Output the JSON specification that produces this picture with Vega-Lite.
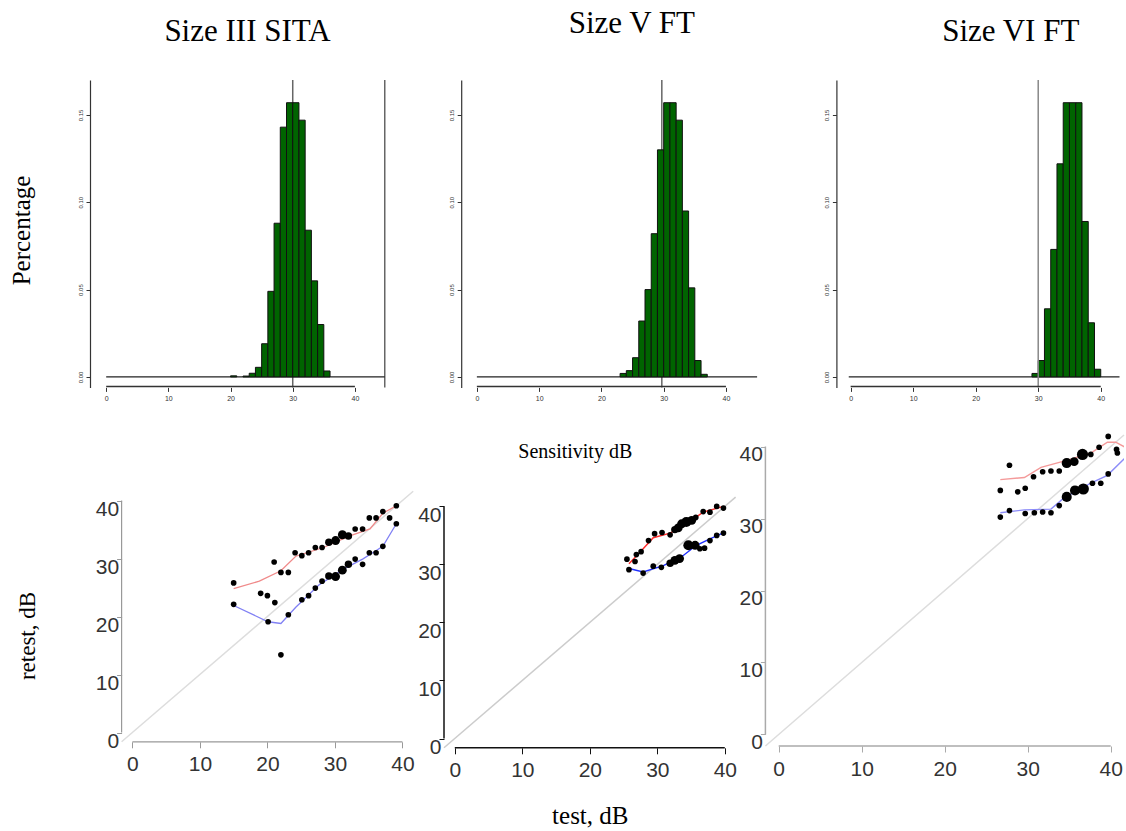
{
 "$schema": "https://vega.github.io/schema/vega-lite/v6.json",
 "background": "white",
 "padding": {"left": 9, "top": 8, "right": 0, "bottom": 0},
 "data": {"values": [{}]},
 "datasets": {
  "h1": [{"lo":20,"hi":21,"p":0.0006},{"lo":22,"hi":23,"p":0.0005},{"lo":23,"hi":24,"p":0.0021},{"lo":24,"hi":25,"p":0.0055},{"lo":25,"hi":26,"p":0.019},{"lo":26,"hi":27,"p":0.049},{"lo":27,"hi":28,"p":0.088},{"lo":28,"hi":29,"p":0.143},{"lo":29,"hi":30,"p":0.157},{"lo":30,"hi":31,"p":0.157},{"lo":31,"hi":32,"p":0.147},{"lo":32,"hi":33,"p":0.084},{"lo":33,"hi":34,"p":0.055},{"lo":34,"hi":35,"p":0.030},{"lo":35,"hi":36,"p":0.0034}],
  "h2": [{"lo":23,"hi":24,"p":0.002},{"lo":24,"hi":25,"p":0.0036},{"lo":25,"hi":26,"p":0.011},{"lo":26,"hi":27,"p":0.032},{"lo":27,"hi":28,"p":0.050},{"lo":28,"hi":29,"p":0.082},{"lo":29,"hi":30,"p":0.130},{"lo":30,"hi":31,"p":0.157},{"lo":31,"hi":32,"p":0.157},{"lo":32,"hi":33,"p":0.147},{"lo":33,"hi":34,"p":0.095},{"lo":34,"hi":35,"p":0.051},{"lo":35,"hi":36,"p":0.0094},{"lo":36,"hi":37,"p":0.0015}],
  "h3": [{"lo":29,"hi":30,"p":0.002},{"lo":30,"hi":31,"p":0.0094},{"lo":31,"hi":32,"p":0.039},{"lo":32,"hi":33,"p":0.073},{"lo":33,"hi":34,"p":0.122},{"lo":34,"hi":35,"p":0.157},{"lo":35,"hi":36,"p":0.157},{"lo":36,"hi":37,"p":0.157},{"lo":37,"hi":38,"p":0.089},{"lo":38,"hi":39,"p":0.031},{"lo":39,"hi":40,"p":0.0044}],
  "pts": [
   {"panel":1,"x":15.0,"y":25.8,"w":1},{"panel":1,"x":21.0,"y":29.4,"w":1},{"panel":1,"x":22.0,"y":27.6,"w":1},{"panel":1,"x":23.1,"y":27.6,"w":1},{"panel":1,"x":19.0,"y":24.0,"w":1},{"panel":1,"x":20.0,"y":23.6,"w":1},{"panel":1,"x":21.1,"y":22.4,"w":1},{"panel":1,"x":24.1,"y":31.0,"w":1},{"panel":1,"x":25.1,"y":30.5,"w":1},{"panel":1,"x":26.1,"y":31.0,"w":1},{"panel":1,"x":27.1,"y":31.9,"w":1},{"panel":1,"x":28.1,"y":31.9,"w":1},{"panel":1,"x":29.1,"y":32.8,"w":1.5},{"panel":1,"x":30.1,"y":33.1,"w":2},{"panel":1,"x":31.1,"y":34.1,"w":2},{"panel":1,"x":32.0,"y":33.9,"w":1.5},{"panel":1,"x":33.0,"y":35.1,"w":1},{"panel":1,"x":34.1,"y":35.1,"w":1},{"panel":1,"x":35.1,"y":37.0,"w":1},{"panel":1,"x":36.1,"y":37.0,"w":1},{"panel":1,"x":37.1,"y":38.1,"w":1},{"panel":1,"x":38.1,"y":37.0,"w":1},{"panel":1,"x":39.1,"y":39.1,"w":1},
   {"panel":1,"x":15.0,"y":22.1,"w":1},{"panel":1,"x":20.1,"y":19.1,"w":1},{"panel":1,"x":22.0,"y":13.4,"w":1},{"panel":1,"x":23.1,"y":20.3,"w":1},{"panel":1,"x":25.1,"y":22.9,"w":1},{"panel":1,"x":26.1,"y":23.6,"w":1},{"panel":1,"x":27.1,"y":24.9,"w":1},{"panel":1,"x":28.1,"y":26.1,"w":1},{"panel":1,"x":29.1,"y":27.0,"w":1.5},{"panel":1,"x":30.1,"y":26.9,"w":2},{"panel":1,"x":31.1,"y":28.0,"w":2},{"panel":1,"x":32.0,"y":29.0,"w":1.5},{"panel":1,"x":33.0,"y":29.9,"w":1},{"panel":1,"x":34.1,"y":29.0,"w":1},{"panel":1,"x":35.1,"y":31.0,"w":1},{"panel":1,"x":36.1,"y":31.0,"w":1},{"panel":1,"x":37.1,"y":32.1,"w":1},{"panel":1,"x":39.1,"y":36.0,"w":1},
   {"panel":2,"x":25.5,"y":30.9,"w":1},{"panel":2,"x":26.7,"y":30.5,"w":1},{"panel":2,"x":26.9,"y":31.7,"w":1},{"panel":2,"x":27.6,"y":32.2,"w":1},{"panel":2,"x":28.7,"y":34.1,"w":1},{"panel":2,"x":29.6,"y":35.3,"w":1},{"panel":2,"x":30.7,"y":35.5,"w":1},{"panel":2,"x":31.9,"y":35.1,"w":1},{"panel":2,"x":32.6,"y":36.0,"w":1.5},{"panel":2,"x":33.1,"y":36.3,"w":2},{"panel":2,"x":33.6,"y":37.0,"w":2},{"panel":2,"x":34.3,"y":37.3,"w":2.5},{"panel":2,"x":35.1,"y":37.6,"w":2},{"panel":2,"x":35.7,"y":38.1,"w":1},{"panel":2,"x":36.8,"y":39.1,"w":1},{"panel":2,"x":37.8,"y":39.0,"w":1},{"panel":2,"x":38.8,"y":40.0,"w":1},{"panel":2,"x":39.8,"y":39.7,"w":1},
   {"panel":2,"x":25.8,"y":29.1,"w":1},{"panel":2,"x":27.9,"y":28.5,"w":1},{"panel":2,"x":29.4,"y":29.7,"w":1},{"panel":2,"x":30.6,"y":29.5,"w":1},{"panel":2,"x":31.9,"y":30.2,"w":1.5},{"panel":2,"x":32.6,"y":30.7,"w":2},{"panel":2,"x":33.3,"y":31.0,"w":2},{"panel":2,"x":34.6,"y":33.3,"w":2.5},{"panel":2,"x":35.6,"y":33.3,"w":2},{"panel":2,"x":36.3,"y":32.7,"w":1},{"panel":2,"x":37.0,"y":32.8,"w":1},{"panel":2,"x":37.8,"y":34.1,"w":1},{"panel":2,"x":38.8,"y":35.0,"w":1},{"panel":2,"x":39.8,"y":35.4,"w":1},
   {"panel":3,"x":26.7,"y":33.9,"w":1},{"panel":3,"x":27.8,"y":37.4,"w":1},{"panel":3,"x":28.8,"y":33.7,"w":1},{"panel":3,"x":29.7,"y":34.2,"w":1},{"panel":3,"x":30.7,"y":35.8,"w":1},{"panel":3,"x":31.8,"y":36.5,"w":1},{"panel":3,"x":32.8,"y":36.6,"w":1},{"panel":3,"x":33.8,"y":36.6,"w":1},{"panel":3,"x":34.7,"y":37.7,"w":2.5},{"panel":3,"x":35.6,"y":37.9,"w":2},{"panel":3,"x":36.6,"y":38.9,"w":3},{"panel":3,"x":37.6,"y":38.9,"w":1},{"panel":3,"x":38.6,"y":39.9,"w":1},{"panel":3,"x":39.7,"y":41.4,"w":1},{"panel":3,"x":40.7,"y":39.6,"w":1},{"panel":3,"x":40.8,"y":39.1,"w":1},
   {"panel":3,"x":26.7,"y":30.2,"w":1},{"panel":3,"x":27.8,"y":31.1,"w":1},{"panel":3,"x":29.7,"y":30.7,"w":1},{"panel":3,"x":30.8,"y":30.8,"w":1},{"panel":3,"x":31.8,"y":30.9,"w":1},{"panel":3,"x":32.8,"y":30.8,"w":1},{"panel":3,"x":33.8,"y":31.8,"w":1},{"panel":3,"x":34.7,"y":33.0,"w":2.5},{"panel":3,"x":35.7,"y":33.9,"w":2.5},{"panel":3,"x":36.7,"y":34.1,"w":3},{"panel":3,"x":37.8,"y":34.9,"w":1},{"panel":3,"x":38.8,"y":34.9,"w":1},{"panel":3,"x":39.7,"y":36.2,"w":1}
  ],
  "fit": [
   {"panel":1,"side":"up","x":15,"y":24.8},{"panel":1,"side":"up","x":18.8,"y":26.1},{"panel":1,"side":"up","x":22,"y":27.9},{"panel":1,"side":"up","x":24.2,"y":30.4},{"panel":1,"side":"up","x":28.3,"y":31.9},{"panel":1,"side":"up","x":32.2,"y":33.9},{"panel":1,"side":"up","x":35.2,"y":35.1},{"panel":1,"side":"up","x":37.1,"y":37.8},{"panel":1,"side":"up","x":39.1,"y":39.1},
   {"panel":1,"side":"lo","x":15,"y":21.9},{"panel":1,"side":"lo","x":20.1,"y":19.1},{"panel":1,"side":"lo","x":22,"y":18.8},{"panel":1,"side":"lo","x":24.2,"y":21.6},{"panel":1,"side":"lo","x":27.7,"y":25.5},{"panel":1,"side":"lo","x":31.6,"y":28.4},{"panel":1,"side":"lo","x":34.1,"y":29.9},{"panel":1,"side":"lo","x":35.6,"y":31.0},{"panel":1,"side":"lo","x":37.1,"y":32.1},{"panel":1,"side":"lo","x":39.1,"y":36.0},
   {"panel":2,"side":"up","x":25.8,"y":30.1},{"panel":2,"side":"up","x":27.6,"y":32.3},{"panel":2,"side":"up","x":29.4,"y":34.6},{"panel":2,"side":"up","x":31.9,"y":35.4},{"panel":2,"side":"up","x":34.3,"y":37.0},{"panel":2,"side":"up","x":36.8,"y":39.0},{"panel":2,"side":"up","x":39.8,"y":40.0},
   {"panel":2,"side":"lo","x":25.8,"y":29.3},{"panel":2,"side":"lo","x":27.9,"y":28.7},{"panel":2,"side":"lo","x":30.9,"y":29.8},{"panel":2,"side":"lo","x":33.8,"y":31.5},{"panel":2,"side":"lo","x":35.8,"y":33.3},{"panel":2,"side":"lo","x":37.8,"y":34.4},{"panel":2,"side":"lo","x":40.1,"y":35.6},
   {"panel":3,"side":"up","x":26.7,"y":35.4},{"panel":3,"side":"up","x":29.6,"y":35.7},{"panel":3,"side":"up","x":31.6,"y":37.1},{"panel":3,"side":"up","x":34.8,"y":38.1},{"panel":3,"side":"up","x":37.6,"y":39.1},{"panel":3,"side":"up","x":39.6,"y":40.6},{"panel":3,"side":"up","x":40.6,"y":40.6},{"panel":3,"side":"up","x":41.9,"y":39.8},
   {"panel":3,"side":"lo","x":26.7,"y":30.8},{"panel":3,"side":"lo","x":29.6,"y":31.2},{"panel":3,"side":"lo","x":32.8,"y":31.3},{"panel":3,"side":"lo","x":34.3,"y":32.8},{"panel":3,"side":"lo","x":37.6,"y":34.9},{"panel":3,"side":"lo","x":39.6,"y":36.0},{"panel":3,"side":"lo","x":41.9,"y":38.6}
  ]
 },
 "config": {
  "view": {"stroke": null},
  "axis": {"grid": false, "labelFont": "Liberation Sans", "titleFont": "Liberation Serif", "titleFontWeight": "normal", "titleColor": "#000"},
  "title": {"font": "Liberation Serif", "fontWeight": "normal", "fontSize": 31, "color": "#000", "anchor": "middle", "baseline": "middle", "frame": "group"}
 },
 "columns": 3,
 "align": "each",
 "bounds": "flush",
 "spacing": {"row": 47, "column": 0},
 "concat": [
  {
   "width": 301, "height": 307.4,
   "title": {"text": "Size III SITA", "dx": 7, "offset": 31},
   "layer": [
    {"mark": {"type": "rule", "color": "#666", "strokeWidth": 1.5}, "encoding": {"x": {"datum": 30, "type": "quantitative", "scale": {"domain": [-1.8, 45], "nice": false, "zero": false}}}},
    {"mark": {"type": "rule", "color": "#666", "strokeWidth": 1.5}, "encoding": {"x": {"datum": 44.8, "type": "quantitative", "scale": {"domain": [-1.8, 45], "nice": false, "zero": false}}}},
    {"mark": {"type": "rule", "color": "#222", "strokeWidth": 1.2}, "encoding": {"x": {"datum": 0, "type": "quantitative", "scale": {"domain": [-1.8, 45], "nice": false, "zero": false}}, "x2": {"datum": 44.8}, "y": {"datum": 0, "type": "quantitative", "scale": {"domain": [-0.006, 0.17], "nice": false, "zero": false}}}},
    {"data": {"name": "h1"}, "mark": {"type": "bar", "orient": "vertical", "fill": "#006400", "stroke": "#111", "strokeWidth": 1},
     "encoding": {
      "x": {"field": "lo", "type": "quantitative", "scale": {"domain": [-1.8, 45], "nice": false, "zero": false}, "axis": {"values": [0, 10, 20, 30, 40], "domain": false, "tickSize": 4, "tickColor": "#333", "labelFontSize": 7, "labelColor": "#333", "labelPadding": 3, "title": null}},
      "x2": {"field": "hi"},
      "y": {"field": "p", "type": "quantitative", "scale": {"domain": [-0.006, 0.17], "nice": false, "zero": false}, "axis": {"values": [0, 0.05, 0.1, 0.15], "format": ".2f", "domain": true, "domainColor": "#333", "domainWidth": 1.2, "tickSize": 4, "tickColor": "#333", "labelFontSize": 6, "labelColor": "#333", "labelAngle": -90, "labelPadding": 3, "title": "Percentage", "titleFontSize": 25, "titleX": -68.4, "titleY": 150, "titleAngle": -90, "titleAlign": "center", "titleBaseline": "middle"}}
     }},
    {"mark": {"type": "rule", "color": "#333", "strokeWidth": 1.5}, "encoding": {"x": {"datum": 0, "type": "quantitative", "scale": {"domain": [-1.8, 45], "nice": false, "zero": false}}, "x2": {"datum": 40}, "y": {"datum": -0.0055, "type": "quantitative", "scale": {"domain": [-0.006, 0.17], "nice": false, "zero": false}}}}
   ]
  },
  {
   "width": 318.1, "height": 307.4,
   "title": {"text": "Size V FT", "dx": 28.8, "offset": 39},
   "layer": [
    {"mark": {"type": "rule", "color": "#666", "strokeWidth": 1.5}, "encoding": {"x": {"datum": 29.7, "type": "quantitative", "scale": {"domain": [-4.475, 45], "nice": false, "zero": false}}}},
    {"mark": {"type": "rule", "color": "#222", "strokeWidth": 1.2}, "encoding": {"x": {"datum": 0, "type": "quantitative", "scale": {"domain": [-4.475, 45], "nice": false, "zero": false}}, "x2": {"datum": 45}, "y": {"datum": 0, "type": "quantitative", "scale": {"domain": [-0.006, 0.17], "nice": false, "zero": false}}}},
    {"data": {"name": "h2"}, "mark": {"type": "bar", "orient": "vertical", "fill": "#006400", "stroke": "#111", "strokeWidth": 1},
     "encoding": {
      "x": {"field": "lo", "type": "quantitative", "scale": {"domain": [-4.475, 45], "nice": false, "zero": false}, "axis": {"values": [0, 10, 20, 30, 40], "domain": false, "tickSize": 4, "tickColor": "#333", "labelFontSize": 7, "labelColor": "#333", "labelPadding": 3, "title": "Sensitivity dB", "titleFontSize": 20, "titleX": 130.8, "titleY": 64.5, "titleAlign": "center", "titleBaseline": "middle"}},
      "x2": {"field": "hi"},
      "y": {"field": "p", "type": "quantitative", "scale": {"domain": [-0.006, 0.17], "nice": false, "zero": false}, "axis": {"values": [0, 0.05, 0.1, 0.15], "format": ".2f", "domain": true, "domainColor": "#333", "domainWidth": 1.2, "offset": -17.2, "tickSize": 4, "tickColor": "#333", "labelFontSize": 6, "labelColor": "#333", "labelAngle": -90, "labelPadding": 3, "title": null}}
     }},
    {"mark": {"type": "rule", "color": "#333", "strokeWidth": 1.5}, "encoding": {"x": {"datum": 0, "type": "quantitative", "scale": {"domain": [-4.475, 45], "nice": false, "zero": false}}, "x2": {"datum": 40}, "y": {"datum": -0.0055, "type": "quantitative", "scale": {"domain": [-0.006, 0.17], "nice": false, "zero": false}}}}
   ]
  },
  {
   "width": 361.5, "height": 307.4,
   "title": {"text": "Size VI FT", "dx": 67, "offset": 31},
   "layer": [
    {"mark": {"type": "rule", "color": "#222", "strokeWidth": 1.2}, "encoding": {"x": {"datum": -0.3, "type": "quantitative", "scale": {"domain": [-13.215, 43], "nice": false, "zero": false}}, "x2": {"datum": 43}, "y": {"datum": 0, "type": "quantitative", "scale": {"domain": [-0.006, 0.17], "nice": false, "zero": false}}}},
    {"data": {"name": "h3"}, "mark": {"type": "bar", "orient": "vertical", "fill": "#006400", "stroke": "#111", "strokeWidth": 1},
     "encoding": {
      "x": {"field": "lo", "type": "quantitative", "scale": {"domain": [-13.215, 43], "nice": false, "zero": false}, "axis": {"values": [0, 10, 20, 30, 40], "domain": false, "tickSize": 4, "tickColor": "#333", "labelFontSize": 7, "labelColor": "#333", "labelPadding": 3, "title": null}},
      "x2": {"field": "hi"},
      "y": {"field": "p", "type": "quantitative", "scale": {"domain": [-0.006, 0.17], "nice": false, "zero": false}, "axis": {"values": [0, 0.05, 0.1, 0.15], "format": ".2f", "domain": true, "domainColor": "#333", "domainWidth": 1.2, "offset": -73.4, "tickSize": 4, "tickColor": "#333", "labelFontSize": 6, "labelColor": "#333", "labelAngle": -90, "labelPadding": 3, "title": null}}
     }},
    {"mark": {"type": "rule", "color": "#888", "strokeWidth": 1.5}, "encoding": {"x": {"datum": 30, "type": "quantitative", "scale": {"domain": [-13.215, 43], "nice": false, "zero": false}}}},
    {"mark": {"type": "rule", "color": "#333", "strokeWidth": 1.5}, "encoding": {"x": {"datum": 0, "type": "quantitative", "scale": {"domain": [-13.215, 43], "nice": false, "zero": false}}, "x2": {"datum": 40}, "y": {"datum": -0.0055, "type": "quantitative", "scale": {"domain": [-0.006, 0.17], "nice": false, "zero": false}}}}
   ]
  },
  {
   "width": 353.8, "height": 306.8,
   "layer": [
    {"mark": {"type": "rule", "color": "#dddddd", "strokeWidth": 1.5}, "encoding": {"x": {"datum": -1.6, "type": "quantitative", "scale": {"domain": [-6.28, 46.13], "nice": false, "zero": false}}, "x2": {"datum": 41.6}, "y": {"datum": -1.6, "type": "quantitative", "scale": {"domain": [-1.6, 51.3], "nice": false, "zero": false}}, "y2": {"datum": 41.6}}},
    {"data": {"name": "fit"}, "transform": [{"filter": "datum.panel == 1 && datum.side == 'up'"}], "mark": {"type": "line", "color": "#f08a8a", "strokeWidth": 1.3}, "encoding": {"x": {"field": "x", "type": "quantitative", "scale": {"domain": [-6.28, 46.13], "nice": false, "zero": false}}, "y": {"field": "y", "type": "quantitative", "scale": {"domain": [-1.6, 51.3], "nice": false, "zero": false}}}},
    {"data": {"name": "fit"}, "transform": [{"filter": "datum.panel == 1 && datum.side == 'lo'"}], "mark": {"type": "line", "color": "#8080f4", "strokeWidth": 1.3}, "encoding": {"x": {"field": "x", "type": "quantitative", "scale": {"domain": [-6.28, 46.13], "nice": false, "zero": false}}, "y": {"field": "y", "type": "quantitative", "scale": {"domain": [-1.6, 51.3], "nice": false, "zero": false}}}},
    {"data": {"name": "pts"}, "transform": [{"filter": "datum.panel == 1"}], "mark": {"type": "circle", "color": "#000", "opacity": 1},
     "encoding": {
      "x": {"field": "x", "type": "quantitative", "scale": {"domain": [-6.28, 46.13], "nice": false, "zero": false}, "axis": {"values": [0, 10, 20, 30, 40], "domain": false, "tickSize": 6, "tickColor": "#999", "labelFontSize": 21, "labelColor": "#333", "labelPadding": 6, "title": null}},
      "y": {"field": "y", "type": "quantitative", "scale": {"domain": [-1.6, 51.3], "nice": false, "zero": false}, "axis": {"values": [0, 10, 20, 30, 40], "domain": false, "offset": -31.6, "tickSize": 5, "tickColor": "#999", "labelFontSize": 21, "labelColor": "#333", "labelPadding": -2, "labelOffset": 9, "title": "retest, dB", "titleFontSize": 23, "titleX": -94, "titleY": 200.5, "titleAngle": -90, "titleAlign": "center", "titleBaseline": "middle"}},
      "size": {"field": "w", "type": "quantitative", "scale": {"domain": [1, 3], "range": [32, 125]}, "legend": null}
     }},
    {"mark": {"type": "rule", "color": "#999", "strokeWidth": 1.2}, "encoding": {"x": {"datum": 0, "type": "quantitative", "scale": {"domain": [-6.28, 46.13], "nice": false, "zero": false}}, "x2": {"datum": 40}, "y": {"datum": -1.6, "type": "quantitative", "scale": {"domain": [-1.6, 51.3], "nice": false, "zero": false}}}},
    {"mark": {"type": "rule", "color": "#999", "strokeWidth": 1.2}, "encoding": {"x": {"datum": -1.6, "type": "quantitative", "scale": {"domain": [-6.28, 46.13], "nice": false, "zero": false}}, "y": {"datum": 0, "type": "quantitative", "scale": {"domain": [-1.6, 51.3], "nice": false, "zero": false}}, "y2": {"datum": 40}}}
   ]
  },
  {
   "width": 291.6, "height": 312.8,
   "layer": [
    {"mark": {"type": "rule", "color": "#cccccc", "strokeWidth": 1.5}, "encoding": {"x": {"datum": -1.6, "type": "quantitative", "scale": {"domain": [-1.6, 41.6], "nice": false, "zero": false}}, "x2": {"datum": 41.6}, "y": {"datum": -1.6, "type": "quantitative", "scale": {"domain": [-1.6, 52.3], "nice": false, "zero": false}}, "y2": {"datum": 41.6}}},
    {"data": {"name": "fit"}, "transform": [{"filter": "datum.panel == 2 && datum.side == 'up'"}], "mark": {"type": "line", "color": "#ff2a2a", "strokeWidth": 1.4}, "encoding": {"x": {"field": "x", "type": "quantitative", "scale": {"domain": [-1.6, 41.6], "nice": false, "zero": false}}, "y": {"field": "y", "type": "quantitative", "scale": {"domain": [-1.6, 52.3], "nice": false, "zero": false}}}},
    {"data": {"name": "fit"}, "transform": [{"filter": "datum.panel == 2 && datum.side == 'lo'"}], "mark": {"type": "line", "color": "#1f2fff", "strokeWidth": 1.4}, "encoding": {"x": {"field": "x", "type": "quantitative", "scale": {"domain": [-1.6, 41.6], "nice": false, "zero": false}}, "y": {"field": "y", "type": "quantitative", "scale": {"domain": [-1.6, 52.3], "nice": false, "zero": false}}}},
    {"data": {"name": "pts"}, "transform": [{"filter": "datum.panel == 2"}], "mark": {"type": "circle", "color": "#000", "opacity": 1},
     "encoding": {
      "x": {"field": "x", "type": "quantitative", "scale": {"domain": [-1.6, 41.6], "nice": false, "zero": false}, "axis": {"values": [0, 10, 20, 30, 40], "domain": false, "tickSize": 6, "tickColor": "#111", "labelFontSize": 21, "labelColor": "#333", "labelPadding": 6, "title": "test, dB", "titleFontSize": 25, "titleX": 145.8, "titleY": 67.7, "titleAlign": "center", "titleBaseline": "middle"}},
      "y": {"field": "y", "type": "quantitative", "scale": {"domain": [-1.6, 52.3], "nice": false, "zero": false}, "axis": {"values": [0, 10, 20, 30, 40], "domain": false, "tickSize": 5, "tickColor": "#111", "labelFontSize": 21, "labelColor": "#333", "labelPadding": -2, "labelOffset": 9, "title": null}},
      "size": {"field": "w", "type": "quantitative", "scale": {"domain": [1, 3], "range": [32, 125]}, "legend": null}
     }},
    {"mark": {"type": "rule", "color": "#111", "strokeWidth": 1.5}, "encoding": {"x": {"datum": 0, "type": "quantitative", "scale": {"domain": [-1.6, 41.6], "nice": false, "zero": false}}, "x2": {"datum": 40}, "y": {"datum": -1.6, "type": "quantitative", "scale": {"domain": [-1.6, 52.3], "nice": false, "zero": false}}}},
    {"mark": {"type": "rule", "color": "#111", "strokeWidth": 1.5}, "encoding": {"x": {"datum": -1.6, "type": "quantitative", "scale": {"domain": [-1.6, 41.6], "nice": false, "zero": false}}, "y": {"datum": 0, "type": "quantitative", "scale": {"domain": [-1.6, 52.3], "nice": false, "zero": false}}, "y2": {"datum": 40}}}
   ]
  },
  {
   "width": 361, "height": 311,
   "layer": [
    {"mark": {"type": "rule", "color": "#dddddd", "strokeWidth": 1.5}, "encoding": {"x": {"datum": -1.6, "type": "quantitative", "scale": {"domain": [-1.89, 41.6], "nice": false, "zero": false}}, "x2": {"datum": 41.6}, "y": {"datum": -1.6, "type": "quantitative", "scale": {"domain": [-1.6, 41.6], "nice": false, "zero": false}}, "y2": {"datum": 41.6}}},
    {"data": {"name": "fit"}, "transform": [{"filter": "datum.panel == 3 && datum.side == 'up'"}], "mark": {"type": "line", "color": "#f49a9a", "strokeWidth": 1.4, "clip": true}, "encoding": {"x": {"field": "x", "type": "quantitative", "scale": {"domain": [-1.89, 41.6], "nice": false, "zero": false}}, "y": {"field": "y", "type": "quantitative", "scale": {"domain": [-1.6, 41.6], "nice": false, "zero": false}}}},
    {"data": {"name": "fit"}, "transform": [{"filter": "datum.panel == 3 && datum.side == 'lo'"}], "mark": {"type": "line", "color": "#8c8cf8", "strokeWidth": 1.4, "clip": true}, "encoding": {"x": {"field": "x", "type": "quantitative", "scale": {"domain": [-1.89, 41.6], "nice": false, "zero": false}}, "y": {"field": "y", "type": "quantitative", "scale": {"domain": [-1.6, 41.6], "nice": false, "zero": false}}}},
    {"data": {"name": "pts"}, "transform": [{"filter": "datum.panel == 3"}], "mark": {"type": "circle", "color": "#000", "opacity": 1},
     "encoding": {
      "x": {"field": "x", "type": "quantitative", "scale": {"domain": [-1.89, 41.6], "nice": false, "zero": false}, "axis": {"values": [0, 10, 20, 30, 40], "domain": false, "tickSize": 6, "tickColor": "#aaa", "labelFontSize": 21, "labelColor": "#333", "labelPadding": 6, "title": null}},
      "y": {"field": "y", "type": "quantitative", "scale": {"domain": [-1.6, 41.6], "nice": false, "zero": false}, "axis": {"values": [0, 10, 20, 30, 40], "domain": false, "offset": -2.4, "tickSize": 5, "tickColor": "#aaa", "labelFontSize": 21, "labelColor": "#333", "labelPadding": -2, "labelOffset": 8, "title": null}},
      "size": {"field": "w", "type": "quantitative", "scale": {"domain": [1, 3], "range": [38, 165]}, "legend": null}
     }},
    {"mark": {"type": "rule", "color": "#aaa", "strokeWidth": 1.5}, "encoding": {"x": {"datum": 0, "type": "quantitative", "scale": {"domain": [-1.89, 41.6], "nice": false, "zero": false}}, "x2": {"datum": 40}, "y": {"datum": -1.6, "type": "quantitative", "scale": {"domain": [-1.6, 41.6], "nice": false, "zero": false}}}},
    {"mark": {"type": "rule", "color": "#aaa", "strokeWidth": 1.5}, "encoding": {"x": {"datum": -1.6, "type": "quantitative", "scale": {"domain": [-1.89, 41.6], "nice": false, "zero": false}}, "y": {"datum": 0, "type": "quantitative", "scale": {"domain": [-1.6, 41.6], "nice": false, "zero": false}}, "y2": {"datum": 40}}}
   ]
  }
 ]
}
